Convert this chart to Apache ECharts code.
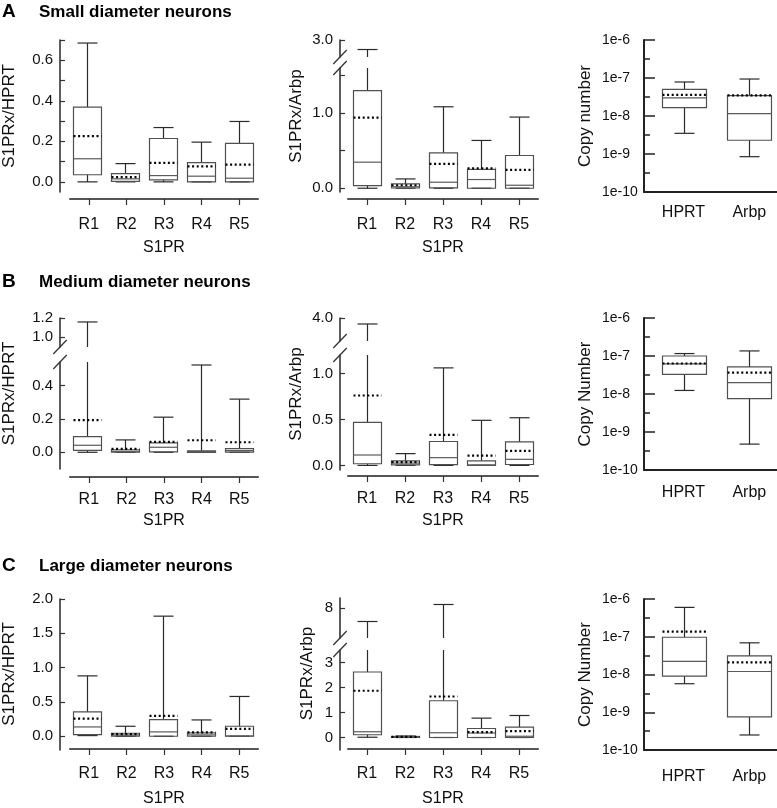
<!DOCTYPE html>
<html><head><meta charset="utf-8">
<script src="https://cdn.jsdelivr.net/npm/echarts@6/dist/echarts.min.js"></script>
<style>html,body{margin:0;padding:0;background:#fff}#c{width:777px;height:808px}</style>
</head><body><div id="c"></div>
<script>
// ---------- DATA ----------
const receptors = ['R1', 'R2', 'R3', 'R4', 'R5'];
const genes = ['HPRT', 'Arbp'];
// each row: [min, q1, median, q3, max, mean]
const smallHPRT = [
  [0.0, 0.035, 0.114, 0.369, 0.685, 0.226],
  [0.0, 0.002, 0.015, 0.041, 0.090, 0.023],
  [0.0, 0.010, 0.031, 0.214, 0.268, 0.094],
  [0.0, 0.000, 0.028, 0.095, 0.196, 0.076],
  [0.0, 0.000, 0.018, 0.190, 0.298, 0.085]
];
const smallArbp = [
  [0.0, 0.036, 0.347, 1.300, 2.72, 0.940],
  [0.0, 0.003, 0.020, 0.057, 0.124, 0.040],
  [0.0, 0.004, 0.080, 0.470, 1.084, 0.324],
  [0.0, 0.000, 0.116, 0.250, 0.636, 0.265],
  [0.0, 0.000, 0.040, 0.436, 0.947, 0.244]
];
const smallCopy = [
  [3.5e-9, 1.66e-8, 3.0e-8, 5.0e-8, 7.85e-8, 3.6e-8],
  [8.5e-10, 2.3e-9, 1.15e-8, 3.42e-8, 9.4e-8, 3.5e-8]
];
const mediumHPRT = [
  [0.0, 0.012, 0.042, 0.094, 1.159, 0.192],
  [0.0, 0.001, 0.006, 0.015, 0.074, 0.020],
  [0.0, 0.002, 0.030, 0.056, 0.210, 0.062],
  [0.0, 0.000, 0.004, 0.008, 0.522, 0.072],
  [0.0, 0.001, 0.010, 0.022, 0.318, 0.060]
];
const mediumArbp = [
  [0.0, 0.018, 0.113, 0.468, 3.74, 0.760],
  [0.0, 0.005, 0.025, 0.050, 0.128, 0.036],
  [0.0, 0.008, 0.084, 0.260, 1.060, 0.332],
  [0.0, 0.000, 0.005, 0.050, 0.490, 0.106],
  [0.0, 0.010, 0.066, 0.255, 0.518, 0.157]
];
const mediumCopy = [
  [1.24e-8, 3.27e-8, 6.2e-8, 1.0e-7, 1.16e-7, 6.35e-8],
  [4.8e-10, 7.6e-9, 2.0e-8, 5.16e-8, 1.36e-7, 3.66e-8]
];
const largeHPRT = [
  [0.010, 0.025, 0.136, 0.355, 0.880, 0.257],
  [0.0, 0.003, 0.020, 0.044, 0.146, 0.030],
  [0.0, 0.000, 0.064, 0.243, 1.750, 0.297],
  [0.0, 0.000, 0.020, 0.049, 0.238, 0.058],
  [0.0, 0.000, 0.005, 0.146, 0.580, 0.107]
];
const largeArbp = [
  [0.01, 0.110, 0.230, 2.620, 7.46, 1.870],
  [0.0, 0.005, 0.020, 0.040, 0.060, 0.025],
  [0.0, 0.000, 0.190, 1.470, 8.14, 1.640],
  [0.0, 0.000, 0.180, 0.360, 0.775, 0.215],
  [0.0, 0.000, 0.050, 0.415, 0.880, 0.255]
];
const largeCopy = [
  [5.7e-9, 9.1e-9, 2.24e-8, 9.7e-8, 6.0e-7, 1.36e-7],
  [2.5e-10, 7.5e-10, 1.2e-8, 3.1e-8, 6.9e-8, 2.1e-8]
];
const rowTitles = [
  ['A', 'Small diameter neurons'],
  ['B', 'Medium diameter neurons'],
  ['C', 'Large diameter neurons']
];
const logTicksMinor = [-9.5, -8.5, -7.5, -6.5];

// ---------- LAYOUT ----------
const FONT = "'Liberation Sans', Arial, Helvetica, sans-serif";
const W = 777;
const panels = [
  { x0: 68, x1: 258, top: 40, bottom: 192, cats: receptors, data: smallHPRT, yName: 'S1PRx/HPRT', yNameGap: 44, xOffset: 7, labelMargin: 18, nameGap: 41, dec: 1,
    segments: [{ top: 40, bottom: 192, min: -0.05, max: 0.7, ticks: [0, 0.1, 0.2, 0.3, 0.4, 0.5, 0.6, 0.7], labels: [0, 0.2, 0.4, 0.6] }] },
  { x0: 348, x1: 538, top: 40, bottom: 192, cats: receptors, data: smallArbp, yName: 'S1PRx/Arbp', yNameGap: 35, xOffset: 7, labelMargin: 18, nameGap: 41, dec: 1,
    segments: [{ top: 68, bottom: 192, min: -0.05, max: 1.6, ticks: [0, 0.5, 1, 1.5], labels: [0, 1] },
               { top: 40, bottom: 57, min: 2.5, max: 3.0, ticks: [3], labels: [3] }] },
  { x0: 644, x1: W, top: 40, bottom: 192, log: true, cats: genes, data: smallCopy, yName: 'Copy number', yNameGap: 50, labelMargin: 13 },

  { x0: 68, x1: 258, top: 318, bottom: 469, cats: receptors, data: mediumHPRT, yName: 'S1PRx/HPRT', yNameGap: 44, xOffset: 8, labelMargin: 15, nameGap: 36, dec: 1,
    segments: [{ top: 362, bottom: 469, min: -0.1, max: 0.54, ticks: [0, 0.2, 0.4], labels: [0, 0.2, 0.4] },
               { top: 318, bottom: 347, min: 0.9, max: 1.2, ticks: [1.0, 1.2], labels: [1.0, 1.2] }] },
  { x0: 348, x1: 538, top: 318, bottom: 470, cats: receptors, data: mediumArbp, yName: 'S1PRx/Arbp', yNameGap: 35, xOffset: 6, labelMargin: 15, nameGap: 37, dec: 1,
    segments: [{ top: 355, bottom: 470, min: -0.05, max: 1.2, ticks: [0, 0.5, 1], labels: [0, 0.5, 1] },
               { top: 318, bottom: 341, min: 3.0, max: 4.0, ticks: [4], labels: [4] }] },
  { x0: 644, x1: W, top: 318, bottom: 470, log: true, cats: genes, data: mediumCopy, yName: 'Copy Number', yNameGap: 50, labelMargin: 15 },

  { x0: 68, x1: 258, top: 599, bottom: 750, cats: receptors, data: largeHPRT, yName: 'S1PRx/HPRT', yNameGap: 44, xOffset: 0, labelMargin: 17, nameGap: 42, dec: 1,
    segments: [{ top: 599, bottom: 750, min: -0.2, max: 2.0, ticks: [0, 0.5, 1, 1.5, 2], labels: [0, 0.5, 1, 1.5, 2] }] },
  { x0: 348, x1: 538, top: 598, bottom: 750, cats: receptors, data: largeArbp, yName: 'S1PRx/Arbp', yNameGap: 24, xOffset: 0, labelMargin: 17, nameGap: 42, dec: 0,
    segments: [{ top: 650, bottom: 750, min: -0.5, max: 3.5, ticks: [0, 1, 2, 3], labels: [0, 1, 2, 3] },
               { top: 598, bottom: 638, min: 6.8, max: 8.4, ticks: [8], labels: [8] }] },
  { x0: 644, x1: W, top: 599, bottom: 750, log: true, cats: genes, data: largeCopy, yName: 'Copy Number', yNameGap: 50, labelMargin: 19 }
];
const titleY = [12, 282, 566];

function renderBox(boxW, capW) {
  return function (params, api) {
    const cs = params.coordSys;
    const top = cs.y, bot = cs.y + cs.height;
    const xv = api.value(0);
    const px = Math.round(api.coord([xv, api.value(5)])[0]) + 0.5;
    const Y = i => api.coord([xv, api.value(i)])[1];
    const yMin = Y(1), yQ1 = Y(2), yMed = Y(3), yQ3 = Y(4), yMax = Y(5), yMean = Y(6);
    const ch = [];
    const inside = y => y >= top - 0.8 && y <= bot + 0.8;
    const vline = (ya, yb) => {
      let a = Math.max(Math.min(ya, yb), top), b = Math.min(Math.max(ya, yb), bot);
      if (b - a > 0.5) ch.push({ type: 'line', shape: { x1: px, y1: a, x2: px, y2: b }, style: { stroke: '#2a2a2a', lineWidth: 1.2 } });
    };
    const hline = (y, w, style) => { if (inside(y)) ch.push({ type: 'line', shape: { x1: px - w / 2, y1: y, x2: px + w / 2, y2: y }, style: style }); };
    // whiskers
    vline(yQ1, yMin); vline(yQ3, yMax);
    hline(yMin, capW, { stroke: '#2a2a2a', lineWidth: 1.2 });
    hline(yMax, capW, { stroke: '#2a2a2a', lineWidth: 1.2 });
    // box
    let a = Math.max(Math.min(yQ3, yQ1), top), b = Math.min(Math.max(yQ3, yQ1), bot);
    if (b >= a && inside(a) && inside(b)) {
      ch.push({ type: 'rect', shape: { x: px - boxW / 2, y: a, width: boxW, height: Math.max(b - a, 0.8) }, style: { fill: 'none', stroke: '#505050', lineWidth: 1.2 } });
    }
    hline(yMed, boxW, { stroke: '#5a5a5a', lineWidth: 1.2 });
    hline(yMean, boxW, { stroke: '#000', lineWidth: 2.2, lineDash: [2, 2.6] });
    return { type: 'group', children: ch };
  };
}

const grids = [], xAxes = [], yAxes = [], series = [], graphics = [];
const txt = (size, extra) => Object.assign({ fontSize: size, color: '#111', fontFamily: FONT }, extra || {});

panels.forEach(p => {
  const right = W - p.x1;
  const isLog = !!p.log;
  const yOff = isLog ? 0 : 8;
  // frame grid: visible x axis + y axis name
  const fg = grids.length;
  grids.push({ left: p.x0, right: right, top: p.top, height: p.bottom - p.top });
  if (isLog) {
    xAxes.push({ gridIndex: fg, type: 'value', position: 'bottom', min: 0.4, max: 2.42,
      axisLine: { show: true, onZero: false, lineStyle: { color: '#222', width: 2 } },
      axisTick: { show: false }, splitLine: { show: false },
      axisLabel: Object.assign(txt(16), { customValues: [1, 2], formatter: v => p.cats[Math.round(v) - 1], margin: p.labelMargin }) });
  } else {
    xAxes.push({ gridIndex: fg, type: 'category', position: 'bottom', data: p.cats, offset: p.xOffset,
      axisLine: { show: true, onZero: false, lineStyle: { color: '#555', width: 2 } },
      axisTick: { show: true, alignWithLabel: true, length: 6, lineStyle: { color: '#333', width: 1.2 } },
      axisLabel: Object.assign(txt(16), { margin: p.labelMargin, interval: 0 }),
      name: 'S1PR', nameLocation: 'middle', nameGap: p.nameGap, nameTextStyle: txt(16) });
  }
  yAxes.push({ gridIndex: fg, type: 'value', position: 'left', min: 0, max: 1, offset: yOff,
    axisLine: { show: false }, axisTick: { show: false }, axisLabel: { show: false }, splitLine: { show: false },
    name: p.yName, nameLocation: 'middle', nameRotate: 90, nameGap: p.yNameGap, nameTextStyle: txt(17) });

  const segs = isLog ? [{ top: p.top, bottom: p.bottom }] : p.segments;
  segs.forEach(s => {
    const gi = grids.length;
    grids.push({ left: p.x0, right: right, top: s.top, height: s.bottom - s.top });
    const xi = xAxes.length;
    xAxes.push(isLog ? { gridIndex: gi, type: 'value', position: 'bottom', min: 0.4, max: 2.42, show: false }
                     : { gridIndex: gi, type: 'category', position: 'bottom', data: p.cats, show: false });
    const yi = yAxes.length;
    if (isLog) {
      yAxes.push({ gridIndex: gi, type: 'log', logBase: 10, position: 'left', min: 1e-10, max: 1e-6,
        axisLine: { show: true, onZero: false, lineStyle: { color: '#222', width: 2 } },
        axisTick: { show: true, inside: true, length: 11, lineStyle: { color: '#222', width: 1.5 } },
        axisLabel: Object.assign(txt(14), { formatter: v => '1e' + Math.round(Math.log10(v)), align: 'left', margin: 42 }),
        splitLine: { show: false } });
      yAxes.push({ gridIndex: gi, type: 'log', logBase: 10, position: 'left', min: 1e-10, max: 1e-6,
        axisLine: { show: false },
        axisTick: { show: true, inside: true, length: 6, customValues: logTicksMinor.map(e => Math.pow(10, e)), lineStyle: { color: '#222', width: 1.5 } },
        axisLabel: { show: false }, splitLine: { show: false } });
    } else {
      yAxes.push({ gridIndex: gi, type: 'value', position: 'left', min: s.min, max: s.max, offset: yOff,
        axisLine: { show: true, onZero: false, lineStyle: { color: '#333', width: 1.6 } },
        axisTick: { show: true, inside: true, length: 5, customValues: s.ticks, lineStyle: { color: '#333', width: 1.2 } },
        axisLabel: Object.assign(txt(15), { customValues: s.labels, formatter: v => Number(v).toFixed(p.dec), margin: 7 }),
        splitLine: { show: false } });
    }
    series.push({ type: 'custom', xAxisIndex: xi, yAxisIndex: yi, silent: true,
      renderItem: renderBox(isLog ? 44 : 28, 20),
      encode: { x: 0, y: [1, 2, 3, 4, 5, 6] },
      data: p.data.map((r, i) => [isLog ? i + 1 : i].concat(r)) });
  });

  // axis break marks
  if (!isLog && p.segments.length > 1) {
    const ax = p.x0 - yOff;
    [p.segments[1].bottom, p.segments[0].top].forEach(yc => {
      graphics.push({ type: 'line', silent: true, shape: { x1: ax - 6.7, y1: yc + 7, x2: ax + 6.7, y2: yc - 7 }, style: { stroke: '#333', lineWidth: 1.3 } });
    });
  }
});

rowTitles.forEach((t, i) => {
  graphics.push({ type: 'text', x: 2, y: titleY[i], style: { text: t[0], font: 'bold 19px ' + FONT, fill: '#000', verticalAlign: 'middle' } });
  graphics.push({ type: 'text', x: 39, y: titleY[i], style: { text: t[1], font: 'bold 17px ' + FONT, fill: '#000', verticalAlign: 'middle' } });
});

const chart = echarts.init(document.getElementById('c'), null, { renderer: 'canvas' });
chart.setOption({
  animation: false,
  backgroundColor: '#fff',
  grid: grids, xAxis: xAxes, yAxis: yAxes, series: series, graphic: graphics
});
</script></body></html>
